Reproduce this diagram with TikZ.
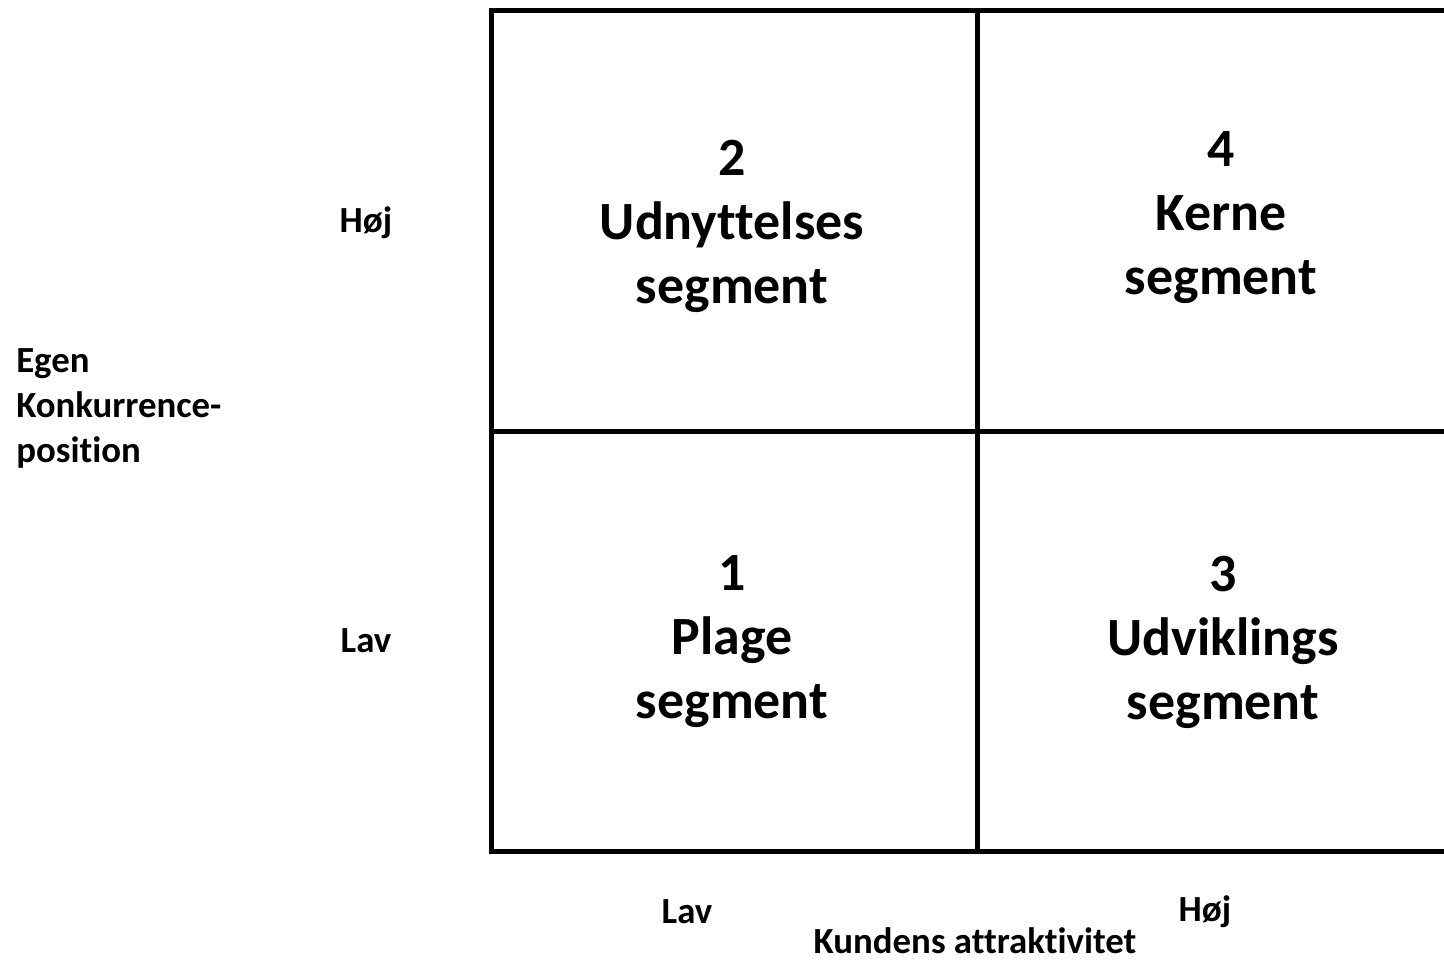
\documentclass[tikz,border=0pt]{standalone}
\usepackage{fontspec}
\setmainfont{Carlito}[Ligatures=NoCommon]
\begin{document}
\begin{tikzpicture}[x=0.75pt,y=-0.75pt,
  big/.style={font=\bfseries\fontsize{40.4}{48}\selectfont,align=center,inner sep=0pt},
  small/.style={font=\bfseries\fontsize{27.6}{33.75}\selectfont,inner sep=0pt},
  gridline/.style={line width=3.75pt,line join=miter}]
\useasboundingbox (0,0) rectangle (1444,966);
\begin{scope}
\clip (0,0) rectangle (1444,966);
\draw[gridline] (1460,10.5) -| (491,851.5) -- (1460,851.5);
\draw[gridline] (491,431) -- (1460,431);
\draw[gridline] (977,10.5) -- (977,851.5);
\end{scope}
\node[big] (q2) at (732,226) {2\\Udnyttelses\\segment};
\node[big] (q4) at (1221,218) {4\\Kerne\\segment};
\node[big] (q1) at (732,642) {1\\Plage\\segment};
\node[big] (q3) at (1223,642) {3\\Udviklings\\segment};
\node[small] (yhi) at (366,223) {Høj};
\node[small] (ylo) at (366,641) {Lav};
\node[small,align=left,anchor=west] (ylab) at (16,408) {Egen\\Konkurrence-\\position};
\node[small] (xlo) at (687,912) {Lav};
\node[small] (xhi) at (1205,912) {Høj};
\node[small] (xlab) at (975,941) {Kundens attraktivitet};
\end{tikzpicture}
\end{document}
